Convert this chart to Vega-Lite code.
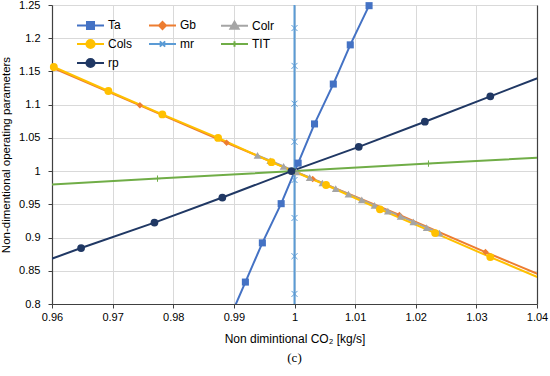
{
  "$schema": "https://vega.github.io/schema/vega-lite/v6.json",
  "width": 485,
  "height": 299,
  "autosize": {"type": "none"},
  "padding": {"left": 52, "top": 5, "right": 13, "bottom": 72},
  "background": "white",
  "title": {"text": "(c)", "orient": "bottom", "font": "Liberation Serif", "fontSize": 13, "fontWeight": "normal", "color": "#000", "offset": 8},
  "data": {"values": [
    {"s":"Ta","x":0.9891,"y":0.774},
    {"s":"Ta","x":0.9919,"y":0.833},
    {"s":"Ta","x":0.9947,"y":0.892},
    {"s":"Ta","x":0.9978,"y":0.951},
    {"s":"Ta","x":1.0006,"y":1.012},
    {"s":"Ta","x":1.0033,"y":1.071},
    {"s":"Ta","x":1.0064,"y":1.131},
    {"s":"Ta","x":1.0092,"y":1.190},
    {"s":"Ta","x":1.0123,"y":1.249},
    {"s":"Gb","x":0.9603,"y":1.1548},
    {"s":"Gb","x":0.9745,"y":1.099},
    {"s":"Gb","x":0.9888,"y":1.0426},
    {"s":"Gb","x":1.003,"y":0.9882},
    {"s":"Gb","x":1.0173,"y":0.934},
    {"s":"Gb","x":1.0315,"y":0.8781},
    {"s":"Gb","x":1.0458,"y":0.8237},
    {"s":"Colr","x":0.9939,"y":1.0238},
    {"s":"Colr","x":0.9960,"y":1.0156},
    {"s":"Colr","x":0.9982,"y":1.0070},
    {"s":"Colr","x":1.0003,"y":0.9988},
    {"s":"Colr","x":1.0025,"y":0.9903},
    {"s":"Colr","x":1.0046,"y":0.9821},
    {"s":"Colr","x":1.0068,"y":0.9735},
    {"s":"Colr","x":1.0089,"y":0.9653},
    {"s":"Colr","x":1.0111,"y":0.9567},
    {"s":"Colr","x":1.0132,"y":0.9485},
    {"s":"Colr","x":1.0154,"y":0.9399},
    {"s":"Colr","x":1.0175,"y":0.9318},
    {"s":"Colr","x":1.0196,"y":0.9236},
    {"s":"Colr","x":1.0218,"y":0.9150},
    {"s":"Colr","x":1.0239,"y":0.9068},
    {"s":"Cols","x":0.9603,"y":1.1567},
    {"s":"Cols","x":0.9693,"y":1.1206},
    {"s":"Cols","x":0.9782,"y":1.0853},
    {"s":"Cols","x":0.9874,"y":1.05},
    {"s":"Cols","x":0.9962,"y":1.0135},
    {"s":"Cols","x":1.0052,"y":0.9791},
    {"s":"Cols","x":1.0141,"y":0.9425},
    {"s":"Cols","x":1.0232,"y":0.9067},
    {"s":"Cols","x":1.0323,"y":0.8706},
    {"s":"Cols","x":1.0414,"y":0.8354},
    {"s":"mr","x":1.0,"y":0.758},
    {"s":"mr","x":1.0,"y":0.8152},
    {"s":"mr","x":1.0,"y":0.872},
    {"s":"mr","x":1.0,"y":0.9295},
    {"s":"mr","x":1.0,"y":0.9866},
    {"s":"mr","x":1.0,"y":1.0441},
    {"s":"mr","x":1.0,"y":1.1015},
    {"s":"mr","x":1.0,"y":1.1584},
    {"s":"mr","x":1.0,"y":1.2153},
    {"s":"mr","x":1.0,"y":1.2726},
    {"s":"TIT","x":0.955,"y":0.9775},
    {"s":"TIT","x":0.9774,"y":0.9887},
    {"s":"TIT","x":1.0,"y":1.0},
    {"s":"TIT","x":1.0221,"y":1.0113},
    {"s":"TIT","x":1.0445,"y":1.0225},
    {"s":"rp","x":0.9533,"y":0.846},
    {"s":"rp","x":0.9648,"y":0.8842},
    {"s":"rp","x":0.9769,"y":0.9225},
    {"s":"rp","x":0.9881,"y":0.9602},
    {"s":"rp","x":0.9995,"y":1.0},
    {"s":"rp","x":1.0106,"y":1.0365},
    {"s":"rp","x":1.0215,"y":1.0743},
    {"s":"rp","x":1.0323,"y":1.1125},
    {"s":"rp","x":1.0431,"y":1.1505}
  ]},
  "encoding": {
    "x": {"field": "x", "type": "quantitative", "scale": {"domain": [0.96, 1.04], "nice": false, "zero": false},
      "axis": {"values": [0.96,0.97,0.98,0.99,1,1.01,1.02,1.03,1.04], "format": ".2~f", "title": "Non dimintional CO₂ [kg/s]", "labelPadding": 3, "titlePadding": 11, "labelFlush": false}},
    "y": {"field": "y", "type": "quantitative", "scale": {"domain": [0.8, 1.25], "nice": false, "zero": false}, "axis": null},
    "order": {"field": "y", "type": "quantitative"},
    "color": {"field": "s", "type": "nominal",
      "scale": {"domain": ["Ta","Gb","Colr","Cols","mr","TIT","rp"], "range": ["#4472C4","#ED7D31","#A5A5A5","#FFC000","#5B9BD5","#70AD47","#203864"]}}
  },
  "layer": [
    {
      "transform": [{"filter": "datum.s === 'Ta' || datum.s === 'Gb' || datum.s === 'Colr'"}],
      "mark": {"type": "line", "strokeWidth": 2, "clip": true},
      "encoding": {
        "y": {"field": "y", "type": "quantitative", "scale": {"domain": [0.8, 1.25], "nice": false, "zero": false},
          "axis": {"values": [0.8,0.85,0.9,0.95,1,1.05,1.1,1.15,1.2,1.25], "format": ".2~f", "title": "Non-dimentional operating parameters", "labelPadding": 8, "titlePadding": 7, "titleFontSize": 11.5}}
      }
    },
    {
      "transform": [{"filter": "datum.s === 'Cols'"}],
      "mark": {"type": "line", "strokeWidth": 2, "clip": true}
    },
    {
      "transform": [{"filter": "datum.s === 'mr' || datum.s === 'TIT' || datum.s === 'rp'"}],
      "mark": {"type": "line", "strokeWidth": 2, "clip": true}
    },
    {
      "transform": [{"filter": "datum.s === 'Ta' && datum.y <= 1.251 && datum.y >= 0.799"}],
      "mark": {"type": "point", "shape": "square", "filled": true, "opacity": 1, "size": 50}
    },
    {
      "transform": [{"filter": "datum.s === 'Gb' && datum.x <= 1.041"}],
      "mark": {"type": "point", "shape": "diamond", "filled": true, "opacity": 1, "size": 42}
    },
    {
      "transform": [{"filter": "datum.s === 'Colr'"}],
      "mark": {"type": "point", "shape": "triangle-up", "filled": true, "opacity": 1, "size": 60}
    },
    {
      "transform": [{"filter": "datum.s === 'Cols' && datum.x <= 1.041"}],
      "mark": {"type": "point", "shape": "circle", "filled": true, "opacity": 1, "size": 62}
    },
    {
      "transform": [{"filter": "datum.s === 'mr' && datum.y <= 1.251 && datum.y >= 0.799"}],
      "mark": {"type": "point", "shape": "M-1,-1L1,1M-1,1L1,-1", "filled": false, "opacity": 1, "size": 36, "strokeWidth": 1}
    },
    {
      "transform": [{"filter": "datum.s === 'TIT' && datum.x >= 0.959 && datum.x <= 1.041"}],
      "mark": {"type": "point", "shape": "M-1,0H1M0,-1V1", "filled": false, "opacity": 1, "size": 40, "strokeWidth": 1}
    },
    {
      "transform": [{"filter": "datum.s === 'rp' && datum.x >= 0.959 && datum.x <= 1.041"}],
      "mark": {"type": "point", "shape": "circle", "filled": true, "opacity": 1, "size": 60}
    },
    {
      "mark": {"type": "point", "filled": true, "opacity": 0, "clip": true},
      "encoding": {
        "y": {"field": "y", "type": "quantitative", "scale": {"domain": [0.8, 1.25], "nice": false, "zero": false},
          "axis": {"orient": "right", "labels": false, "ticks": false, "grid": false, "title": null, "domainColor": "#404040"}},
        "stroke": {"field": "s", "type": "nominal",
          "scale": {"domain": ["Ta","Gb","Colr","Cols","mr","TIT","rp"], "range": ["#4472C4","#ED7D31","#A5A5A5","#FFC000","#5B9BD5","#70AD47","#203864"]}},
        "shape": {"field": "s", "type": "nominal",
          "scale": {"domain": ["Ta","Gb","Colr","Cols","mr","TIT","rp"], "range": [
            "M-1.42,0H1.42M-0.37,-0.37H0.37V0.37H-0.37Z",
            "M-1.42,0H1.42M0,-0.37L0.37,0L0,0.37L-0.37,0Z",
            "M-1.42,0H1.42M0,-0.43L0.43,0.31H-0.43Z",
            "M-1.42,0H1.42M0.43,0A0.43,0.43,0,1,1,-0.43,0A0.43,0.43,0,1,1,0.43,0Z",
            "M-1.42,0H1.42M-0.28,-0.28L0.28,0.28M-0.28,0.28L0.28,-0.28",
            "M-1.42,0H1.42M0,-0.28V0.28",
            "M-1.42,0H1.42M0.43,0A0.43,0.43,0,1,1,-0.43,0A0.43,0.43,0,1,1,0.43,0Z"]},
          "legend": {"orient": "none", "legendX": 28, "legendY": 9.5, "columns": 3, "gridAlign": "all", "columnPadding": 12, "rowPadding": 0, "padding": 0,
            "values": ["Ta","Cols","TIT","Gb","mr","rp","Colr"],
            "title": null, "symbolSize": 361, "symbolStrokeWidth": 2, "symbolOpacity": 1, "labelOffset": 7, "labelFont": "Liberation Sans", "labelFontSize": 12, "labelColor": "#000"}}
      }
    }
  ],
  "resolve": {"axis": {"y": "independent"}},
  "config": {
    "view": {"stroke": null},
    "axis": {"labelFont": "Liberation Sans", "labelFontSize": 11, "labelColor": "#000", "titleFont": "Liberation Sans", "titleFontSize": 12, "titleFontWeight": "normal", "titleColor": "#000",
      "domainColor": "#404040", "tickColor": "#404040", "gridColor": "#D9D9D9", "tickSize": 4, "domainWidth": 1.2}
  }
}
